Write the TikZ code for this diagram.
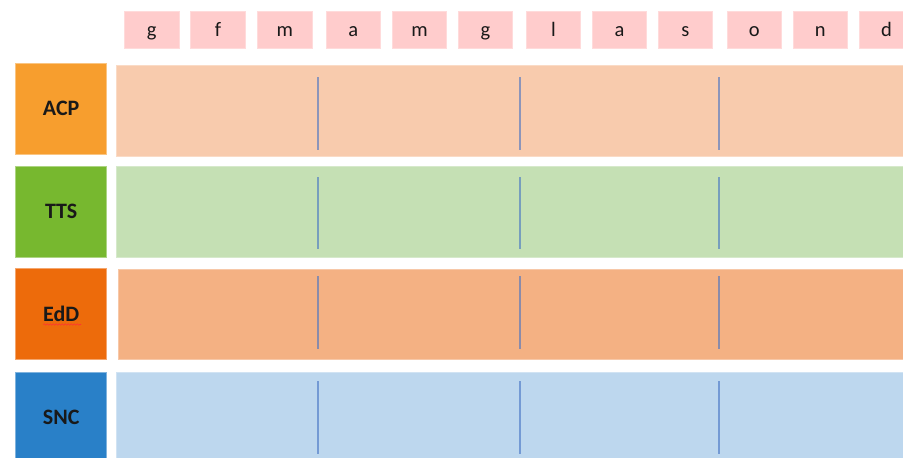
\documentclass[tikz,border=0pt]{standalone}
\usepackage{fontspec}
\setmainfont{Carlito}
\usetikzlibrary{decorations.pathmorphing}
\definecolor{monthfill}{HTML}{FFCCCC}
\definecolor{acpc}{HTML}{F79E2E}
\definecolor{ttsc}{HTML}{77B82F}
\definecolor{eddc}{HTML}{ED6B0B}
\definecolor{sncc}{HTML}{2980C8}
\definecolor{acpband}{HTML}{F8CBAD}
\definecolor{ttsband}{HTML}{C5E0B4}
\definecolor{eddband}{HTML}{F4B183}
\definecolor{sncband}{HTML}{BDD7EE}
\definecolor{divline}{HTML}{4472C4}
\tikzset{
  monthbox/.style={fill=monthfill, draw=monthfill!70!white, line width=0.8pt,
    minimum width=54.5pt, minimum height=37pt, inner sep=0pt, outer sep=0pt,
    text height=14pt, text depth=-4pt,
    font=\fontsize{20.5}{24}\selectfont, text=black!90},
  rowlabel/.style={draw=#1!60!white, fill=#1, line width=0.8pt,
    minimum width=91pt, minimum height=91pt, inner sep=0pt, outer sep=0pt,
    text height=14pt, text depth=-4pt,
    font=\fontsize{22}{26}\selectfont\bfseries, text=black!90},
  band/.style={draw=#1!70!white, fill=#1, line width=0.8pt, anchor=north west,
    minimum width=800pt, inner sep=0pt, outer sep=0pt},
  divider/.style={draw=divline, draw opacity=0.6, line width=1.3pt},
  spellmark/.style={draw=red!80!white, line width=0.6pt,
    decorate, decoration={snake, amplitude=0.8pt, segment length=3pt}}
}
\begin{document}
\begin{tikzpicture}[x=1pt,y=-1pt]
\useasboundingbox (0,0) rectangle (903,458);
\clip (0,0) rectangle (903,458);
% month boxes
\node[monthbox] (m1) at (151.7,29.5) {g};
\node[monthbox] (m2) at (218,29.5) {f};
\node[monthbox] (m3) at (284.7,29.5) {m};
\node[monthbox] (m4) at (353.3,29.5) {a};
\node[monthbox] (m5) at (419.5,29.5) {m};
\node[monthbox] (m6) at (485.5,29.5) {g};
\node[monthbox] (m7) at (553.5,29.5) {l};
\node[monthbox] (m8) at (619.5,29.5) {a};
\node[monthbox] (m9) at (685.3,29.5) {s};
\node[monthbox] (m10) at (754.3,29.5) {o};
\node[monthbox] (m11) at (820.3,29.5) {n};
\node[monthbox] (m12) at (886.5,29.5) {d};
% bands
\node[band=acpband, minimum height=90.3pt] (bA) at (116.7,65.7) {};
\node[band=ttsband, minimum height=90.3pt] (bT) at (116.7,166.7) {};
\node[band=eddband, minimum height=90pt] (bE) at (118.7,269.3) {};
\node[band=sncband, minimum height=91pt] (bS) at (116.7,372) {};
% row labels
\node[rowlabel=acpc] (lA) at (61.2,108.8) {ACP};
\node[rowlabel=ttsc] (lT) at (61.2,211.7) {TTS};
\node[rowlabel=eddc] (lE) at (61.2,314.2) {EdD};
\node[rowlabel=sncc] (lS) at (61.2,417.5) {SNC};
% spell-check squiggle under EdD
\coordinate (sq1) at (43.3,324.5);
\coordinate (sq2) at (81,324.5);
\draw[spellmark] (sq1) -- (sq2);
% dividers
\foreach \x/\n in {318/a,520/b,719/c}{
  \coordinate (A\n1) at (\x,77); \coordinate (A\n2) at (\x,150);
  \coordinate (T\n1) at (\x,177); \coordinate (T\n2) at (\x,249);
  \coordinate (E\n1) at (\x,276); \coordinate (E\n2) at (\x,349);
  \coordinate (S\n1) at (\x,381); \coordinate (S\n2) at (\x,454);
  \draw[divider] (A\n1) -- (A\n2);
  \draw[divider] (T\n1) -- (T\n2);
  \draw[divider] (E\n1) -- (E\n2);
  \draw[divider] (S\n1) -- (S\n2);
}
\end{tikzpicture}
\end{document}
